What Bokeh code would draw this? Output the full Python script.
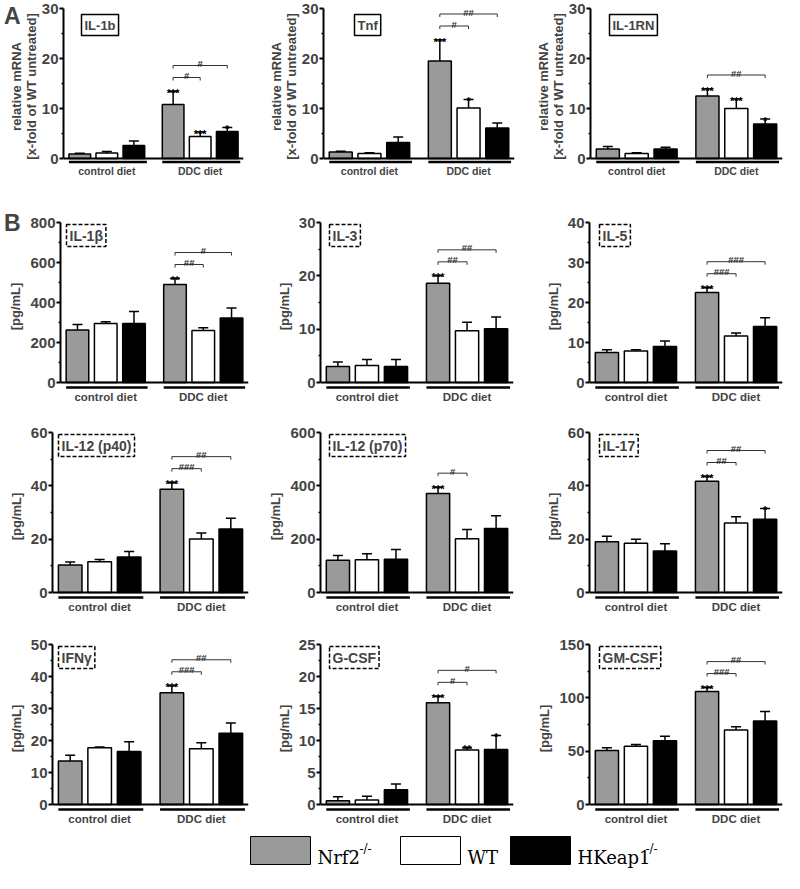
from bokeh.plotting import figure
from bokeh.models import (ColumnDataSource, Range1d, LinearAxis, FixedTicker, Span,
                          Whisker, TeeHead, Label)
from bokeh.layouts import column, row
from bokeh.embed import file_html
from bokeh.resources import INLINE
from bokeh.core.properties import value

# ---------------- data ----------------
genotypes = ["Nrf2", "WT", "HKeap1"]
genotype_sup = ["-/-", "", "-/-"]
diets = ["control diet", "DDC diet"]
bar_colors = ["#9a9a9a", "#ffffff", "#000000"]

# order of values: control (Nrf2-/-, WT, HKeap1-/-), DDC (Nrf2-/-, WT, HKeap1-/-)
# ---- A: relative mRNA [x-fold of WT untreated]
il1b_mrna_mean = [0.9, 1.1, 2.6, 10.8, 4.4, 5.4]
il1b_mrna_err = [0.15, 0.3, 0.9, 2.6, 0.9, 0.8]
il1b_mrna_stars = ["", "", "", "***", "***", "*"]
il1b_mrna_hash = [(1, "#"), (2, "#")]

tnf_mrna_mean = [1.3, 1.0, 3.2, 19.5, 10.1, 6.1]
tnf_mrna_err = [0.15, 0.15, 1.1, 4.2, 1.7, 1.0]
tnf_mrna_stars = ["", "", "", "***", "*", ""]
tnf_mrna_hash = [(1, "#"), (2, "##")]

il1rn_mrna_mean = [1.9, 1.0, 1.9, 12.5, 10.0, 6.9]
il1rn_mrna_err = [0.5, 0.15, 0.35, 1.4, 1.9, 1.0]
il1rn_mrna_stars = ["", "", "", "***", "***", "*"]
il1rn_mrna_hash = [(2, "##")]

# ---- B: serum protein [pg/mL]
il1beta_mean = [263, 295, 295, 490, 260, 323]
il1beta_err = [27, 9, 60, 30, 14, 50]
il1beta_stars = ["", "", "", "**", "", ""]
il1beta_hash = [(1, "##"), (2, "#")]

il3_mean = [3.0, 3.2, 3.0, 18.6, 9.7, 10.1]
il3_err = [0.85, 1.1, 1.3, 1.4, 1.6, 2.2]
il3_stars = ["", "", "", "***", "", ""]
il3_hash = [(1, "##"), (2, "##")]

il5_mean = [7.5, 7.9, 9.0, 22.5, 11.6, 14.0]
il5_err = [0.7, 0.3, 1.4, 1.2, 0.8, 2.2]
il5_stars = ["", "", "", "***", "", ""]
il5_hash = [(1, "###"), (2, "###")]

il12p40_mean = [10.3, 11.5, 13.3, 38.7, 20.1, 23.8]
il12p40_err = [1.1, 0.9, 2.1, 2.5, 2.2, 4.0]
il12p40_stars = ["", "", "", "***", "", ""]
il12p40_hash = [(1, "###"), (2, "##")]

il12p70_mean = [121, 123, 125, 371, 202, 240]
il12p70_err = [18, 22, 36, 24, 34, 48]
il12p70_stars = ["", "", "", "***", "", ""]
il12p70_hash = [(1, "#")]

il17_mean = [19.0, 18.5, 15.6, 41.7, 26.1, 27.5]
il17_err = [2.1, 1.5, 2.7, 1.8, 2.3, 4.0]
il17_stars = ["", "", "", "***", "", "*"]
il17_hash = [(1, "##"), (2, "##")]

ifng_mean = [13.6, 17.7, 16.6, 34.9, 17.4, 22.3]
ifng_err = [1.8, 0.3, 3.0, 2.2, 1.9, 3.2]
ifng_stars = ["", "", "", "***", "", ""]
ifng_hash = [(1, "###"), (2, "##")]

gcsf_mean = [0.6, 0.7, 2.3, 15.9, 8.5, 8.6]
gcsf_err = [0.6, 0.6, 0.9, 1.0, 0.35, 2.2]
gcsf_stars = ["", "", "", "***", "**", "*"]
gcsf_hash = [(1, "#"), (2, "#")]

gmcsf_mean = [50.7, 54.7, 59.8, 106, 69.8, 78.3]
gmcsf_err = [2.4, 1.5, 4.3, 3.6, 3.0, 8.8]
gmcsf_stars = ["", "", "", "***", "", ""]
gmcsf_hash = [(1, "###"), (2, "##")]

# axis maxima and tick steps
ymax_list = [30, 30, 30, 800, 30, 40, 60, 600, 60, 50, 25, 150]
ystep_list = [10, 10, 10, 200, 10, 10, 20, 200, 20, 10, 5, 50]
panel_names = ["IL-1b", "Tnf", "IL-1RN", "IL-1\u03b2", "IL-3", "IL-5",
               "IL-12 (p40)", "IL-12 (p70)", "IL-17", "IFN\u03b3", "G-CSF", "GM-CSF"]
panel_data = [
    (il1b_mrna_mean, il1b_mrna_err, il1b_mrna_stars, il1b_mrna_hash),
    (tnf_mrna_mean, tnf_mrna_err, tnf_mrna_stars, tnf_mrna_hash),
    (il1rn_mrna_mean, il1rn_mrna_err, il1rn_mrna_stars, il1rn_mrna_hash),
    (il1beta_mean, il1beta_err, il1beta_stars, il1beta_hash),
    (il3_mean, il3_err, il3_stars, il3_hash),
    (il5_mean, il5_err, il5_stars, il5_hash),
    (il12p40_mean, il12p40_err, il12p40_stars, il12p40_hash),
    (il12p70_mean, il12p70_err, il12p70_stars, il12p70_hash),
    (il17_mean, il17_err, il17_stars, il17_hash),
    (ifng_mean, ifng_err, ifng_stars, ifng_hash),
    (gcsf_mean, gcsf_err, gcsf_stars, gcsf_hash),
    (gmcsf_mean, gmcsf_err, gmcsf_stars, gmcsf_hash),
]
section_letters = ["A", "B"]

FONT = "Liberation Sans"
GROUP_GAP = 1.45
BAR_W = 0.8
xs = [g * (2 + GROUP_GAP) + i for g in range(2) for i in range(3)]
centers = [(xs[0] + xs[2]) / 2, (xs[3] + xs[5]) / 2]
X0, X1 = -0.6, xs[-1] + 0.6

# layout: (fig width, left border, frame width) per column, per row-type
COLS_A = [(265, 57, 186), (267, 57, 192), (252, 57, 193)]
COLS_B = [(265, 52, 196), (267, 55, 193), (252, 57, 193)]
# rows: (fig height, top border, height above zero, gap below zero, group line offset)
ROW_A = (182, 8, 150, 6, 3.5)
ROW_B1 = (226, 40, 160, 8, 5.0)
ROW_B = (212, 24, 160, 8, 5.0)
TITLE_DX_A = [15, 28, 16]
TITLE_DX_B = [3, 6, 7]


def make_panel(k, col, rowspec, colspec, section, letter=None, letter_px=0):
    mean, err, stars, hashes = panel_data[k]
    ymax, ystep = ymax_list[k], ystep_list[k]
    fig_h, top, h0, gap, gl = rowspec
    fig_w, left, fw = colspec
    dpp = ymax / h0
    ymin = -gap * dpp
    p = figure(width=fig_w, height=fig_h, x_range=Range1d(X0, X1), y_range=Range1d(ymin, ymax),
               x_axis_type=None, y_axis_type=None, toolbar_location=None, output_backend="svg",
               min_border_left=left, min_border_right=fig_w - left - fw,
               min_border_top=top, min_border_bottom=fig_h - top - h0 - gap)
    p.outline_line_color = None
    p.background_fill_color = "white"

    hi = [m + e for m, e in zip(mean, err)]
    src = ColumnDataSource(dict(x=xs, top=mean, hi=hi, color=bar_colors * 2))
    p.vbar(x="x", top="top", bottom=0, width=BAR_W, fill_color="color", line_color="black",
           line_width=1.5, source=src)
    p.add_layout(Whisker(source=src, base="x", lower="top", upper="hi", dimension="height",
                         line_color="black", line_width=1.5, lower_head=None,
                         upper_head=TeeHead(size=10, line_width=1.5, line_color="black")))
    # zero line
    p.add_layout(Span(location=0, dimension="width", line_color="black", line_width=2))
    # group lines
    gy = -gl * dpp
    p.segment(x0=[xs[0] - BAR_W / 2, xs[3] - BAR_W / 2], x1=[xs[2] + BAR_W / 2 + 0.08, xs[5] + BAR_W / 2 + 0.08],
              y0=[gy, gy], y1=[gy, gy], line_color="black", line_width=2.5)
    # stars
    p.text(x=xs, y=[h - 1.5 * dpp for h in hi], text=stars, text_font=value(FONT),
           text_font_style="bold", text_font_size="11px", text_align="center",
           text_baseline="alphabetic", text_color="black")
    # brackets
    level = hi[3] + 14 * dpp
    bxs, bys, tx, ty, tt = [], [], [], [], []
    for target, lab in hashes:
        xa, xb = xs[3], xs[3 + target]
        bxs.append([xa, xa, xb, xb])
        bys.append([level - 3 * dpp, level, level, level - 3 * dpp])
        tx.append((xa + xb) / 2)
        ty.append(level + 2 * dpp)
        tt.append(lab)
        level += 12 * dpp
    p.multi_line(xs=bxs, ys=bys, line_color="#333333", line_width=1)
    p.text(x=tx, y=ty, text=tt, text_font=value(FONT), text_font_style="bold",
           text_font_size="9.5px", text_align="center", text_baseline="alphabetic", text_color="#333333")

    # y axis
    majors = [i * ystep for i in range(int(round(ymax / ystep)) + 1)]
    minors = [m + ystep / 2 for m in majors[:-1]]
    ylabel = "relative mRNA\n[x-fold of WT untreated]" if section == "A" else "[pg/mL]"
    ya = LinearAxis(ticker=FixedTicker(ticks=majors, minor_ticks=minors), bounds=(0, ymax),
                    axis_label=ylabel)
    ya.axis_line_width = 2
    ya.major_tick_line_width = 2
    ya.major_tick_out = 4
    ya.major_tick_in = 0
    ya.minor_tick_line_width = 1.5
    ya.minor_tick_out = 2
    ya.minor_tick_in = 0
    ya.major_label_text_font = FONT
    ya.major_label_text_font_style = "bold"
    ya.major_label_text_font_size = "15px"
    ya.major_label_standoff = 1
    ya.axis_label_text_font = FONT
    ya.axis_label_text_font_style = "bold"
    ya.axis_label_text_font_size = "13px"
    ya.axis_label_text_line_height = 1.0
    ya.axis_label_standoff = 0 if section == "A" else 4
    p.add_layout(ya, "left")

    # section letter, drawn as the single tick label of an outer, line-less axis
    if letter is not None:
        lt = ymax - letter_px * dpp
        la = LinearAxis(ticker=FixedTicker(ticks=[lt], minor_ticks=[]),
                        major_label_overrides={lt: letter})
        la.axis_line_color = None
        la.major_tick_line_color = None
        la.major_tick_out = 0
        la.major_tick_in = 0
        la.major_label_standoff = -15
        la.major_label_text_font = FONT
        la.major_label_text_font_style = "bold"
        la.major_label_text_font_size = "23px"
        la.major_label_orientation = "horizontal"
        p.add_layout(la, "left")

    # x axis: group labels
    xa_ = LinearAxis(ticker=FixedTicker(ticks=centers, minor_ticks=[]),
                     major_label_overrides={centers[0]: diets[0], centers[1]: diets[1]})
    xa_.axis_line_color = None
    xa_.major_tick_line_color = None
    xa_.minor_tick_line_color = None
    xa_.major_tick_out = 0
    xa_.major_tick_in = 0
    xa_.major_label_standoff = 0
    xa_.major_label_text_font = FONT
    xa_.major_label_text_font_style = "bold"
    xa_.major_label_text_font_size = "10.5px" if section == "A" else "11.5px"
    p.add_layout(xa_, "below")

    # panel title box
    dx = TITLE_DX_A[col] if section == "A" else TITLE_DX_B[col]
    p.add_layout(Label(x=X0, y=ymax, x_offset=dx + 3, y_offset=-6 if section == "A" else -2,
                       text=panel_names[k], text_baseline="top", text_align="left",
                       text_font=FONT, text_font_style="bold",
                       text_font_size="13px" if section == "A" else "14px",
                       border_line_color="black", border_line_width=1.5,
                       border_line_dash="solid" if section == "A" else "4 2",
                       background_fill_color="white", padding=3))
    return p


rows = []
figsA = [make_panel(k, k, ROW_A, COLS_A[k], "A",
                    letter=section_letters[0] if k == 0 else None, letter_px=3) for k in range(3)]
rows.append(row(*figsA))
for r in range(3):
    rowspec = ROW_B1 if r == 0 else ROW_B
    figs = [make_panel(3 + r * 3 + c, c, rowspec, COLS_B[c], "B",
                       letter=section_letters[1] if (r == 0 and c == 0) else None, letter_px=0)
            for c in range(3)]
    rows.append(row(*figs))

# legend
LW, LH = 784, 36
lg = figure(width=LW, height=LH, x_range=Range1d(0, LW), y_range=Range1d(0, LH),
            x_axis_type=None, y_axis_type=None, toolbar_location=None, output_backend="svg",
            min_border=0)
lg.outline_line_color = None
box_left = [250, 400, 510]
box_w = 60
lg.quad(left=box_left, right=[b + box_w for b in box_left], bottom=[4] * 3, top=[32] * 3,
        fill_color=bar_colors, line_color="black", line_width=1)
name_x = [b + box_w + 7 for b in box_left]
lg.text(x=name_x, y=[11] * 3, text=genotypes, text_font=value("DejaVu Serif"),
        text_font_size="18px", text_align="left", text_baseline="alphabetic", text_color="black")
name_w = [42, 0, 68]
lg.text(x=[nx + w for nx, w in zip(name_x, name_w)], y=[20] * 3, text=genotype_sup,
        text_font=value("DejaVu Serif"), text_font_size="12px", text_align="left",
        text_baseline="alphabetic", text_color="black")
rows.append(lg)

layout = column(*rows)
open("out.html", "w").write(file_html(layout, INLINE))
